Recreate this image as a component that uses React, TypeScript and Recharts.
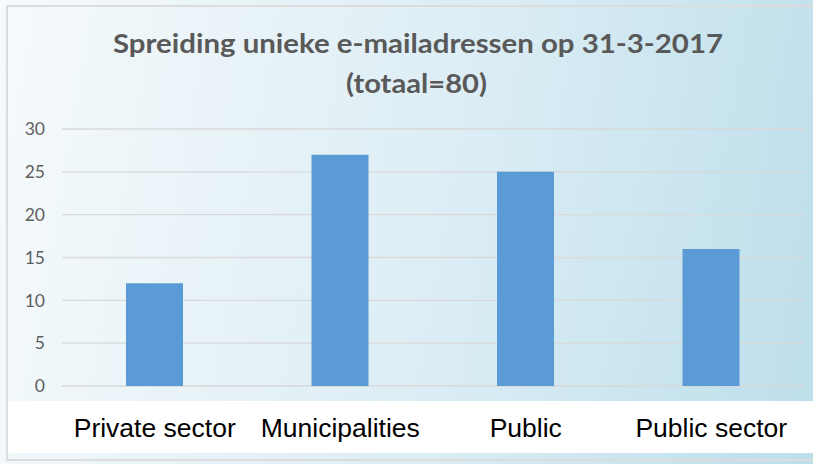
import React from 'react';
import { BarChart, Bar, XAxis, YAxis, CartesianGrid } from 'recharts';

const categories = ['Private sector', 'Municipalities', 'Public', 'Public sector'];
const counts = [12, 27, 25, 16];
const yTicks = [0, 5, 10, 15, 20, 25, 30];
const titleLine1 = 'Spreiding unieke e-mailadressen op 31-3-2017';
const titleLine2 = '(totaal=80)';

const data = categories.map((c, i) => ({ category: c, count: counts[i] }));

export default function App() {
  return (
    <div
      style={{
        position: 'absolute',
        left: 0,
        top: 0,
        width: 813,
        height: 464,
        overflow: 'hidden',
        background:
          'linear-gradient(100deg, #f6fafc 0%, #eaf4f8 25%, #dcedf5 55%, #cae5ef 80%, #bddeea 100%)',
      }}
    >
      <div
        style={{
          position: 'absolute',
          left: 6,
          top: 5,
          width: 820,
          height: 456,
          border: '2px solid #dcdcdc',
          boxSizing: 'border-box',
        }}
      />
      <div
        style={{
          position: 'absolute',
          left: 8,
          top: 401,
          width: 805,
          height: 52,
          background: '#ffffff',
        }}
      />
      <div style={{ position: 'absolute', left: 0, top: 0 }}>
        <BarChart
          width={813}
          height={464}
          data={data}
          margin={{ top: 129, right: 9, left: 0, bottom: 0 }}
        >
          <CartesianGrid vertical={false} stroke="#d9d9d9" strokeWidth={1.3} />
          <XAxis
            dataKey="category"
            axisLine={false}
            tickLine={false}
            tickSize={0}
            tickMargin={32}
            height={78}
            interval={0}
            tick={{ fill: '#000000', fontSize: 26.5, fontFamily: '"Liberation Sans", Arial, sans-serif' }}
          />
          <YAxis
            domain={[0, 30]}
            ticks={yTicks}
            width={62}
            axisLine={false}
            tickLine={false}
            tickSize={0}
            tickMargin={17}
            tick={{ fill: '#5f5f5f', fontSize: 17.5, fontFamily: 'Lato, sans-serif' }}
          />
          <Bar dataKey="count" fill="#5b9bd5" barSize={57} isAnimationActive={false} />
        </BarChart>
      </div>
      <svg
        width={813}
        height={464}
        style={{ position: 'absolute', left: 0, top: 0, pointerEvents: 'none' }}
      >
        <text
          x={113}
          y={53}
          textLength={610}
          lengthAdjust="spacingAndGlyphs"
          fill="#595959"
          fontSize={27}
          fontWeight="bold"
          fontFamily="Lato, sans-serif"
        >
          {titleLine1}
        </text>
        <text
          x={346}
          y={93}
          textLength={141}
          lengthAdjust="spacingAndGlyphs"
          fill="#595959"
          fontSize={27}
          fontWeight="bold"
          fontFamily="Lato, sans-serif"
        >
          {titleLine2}
        </text>
      </svg>
    </div>
  );
}
